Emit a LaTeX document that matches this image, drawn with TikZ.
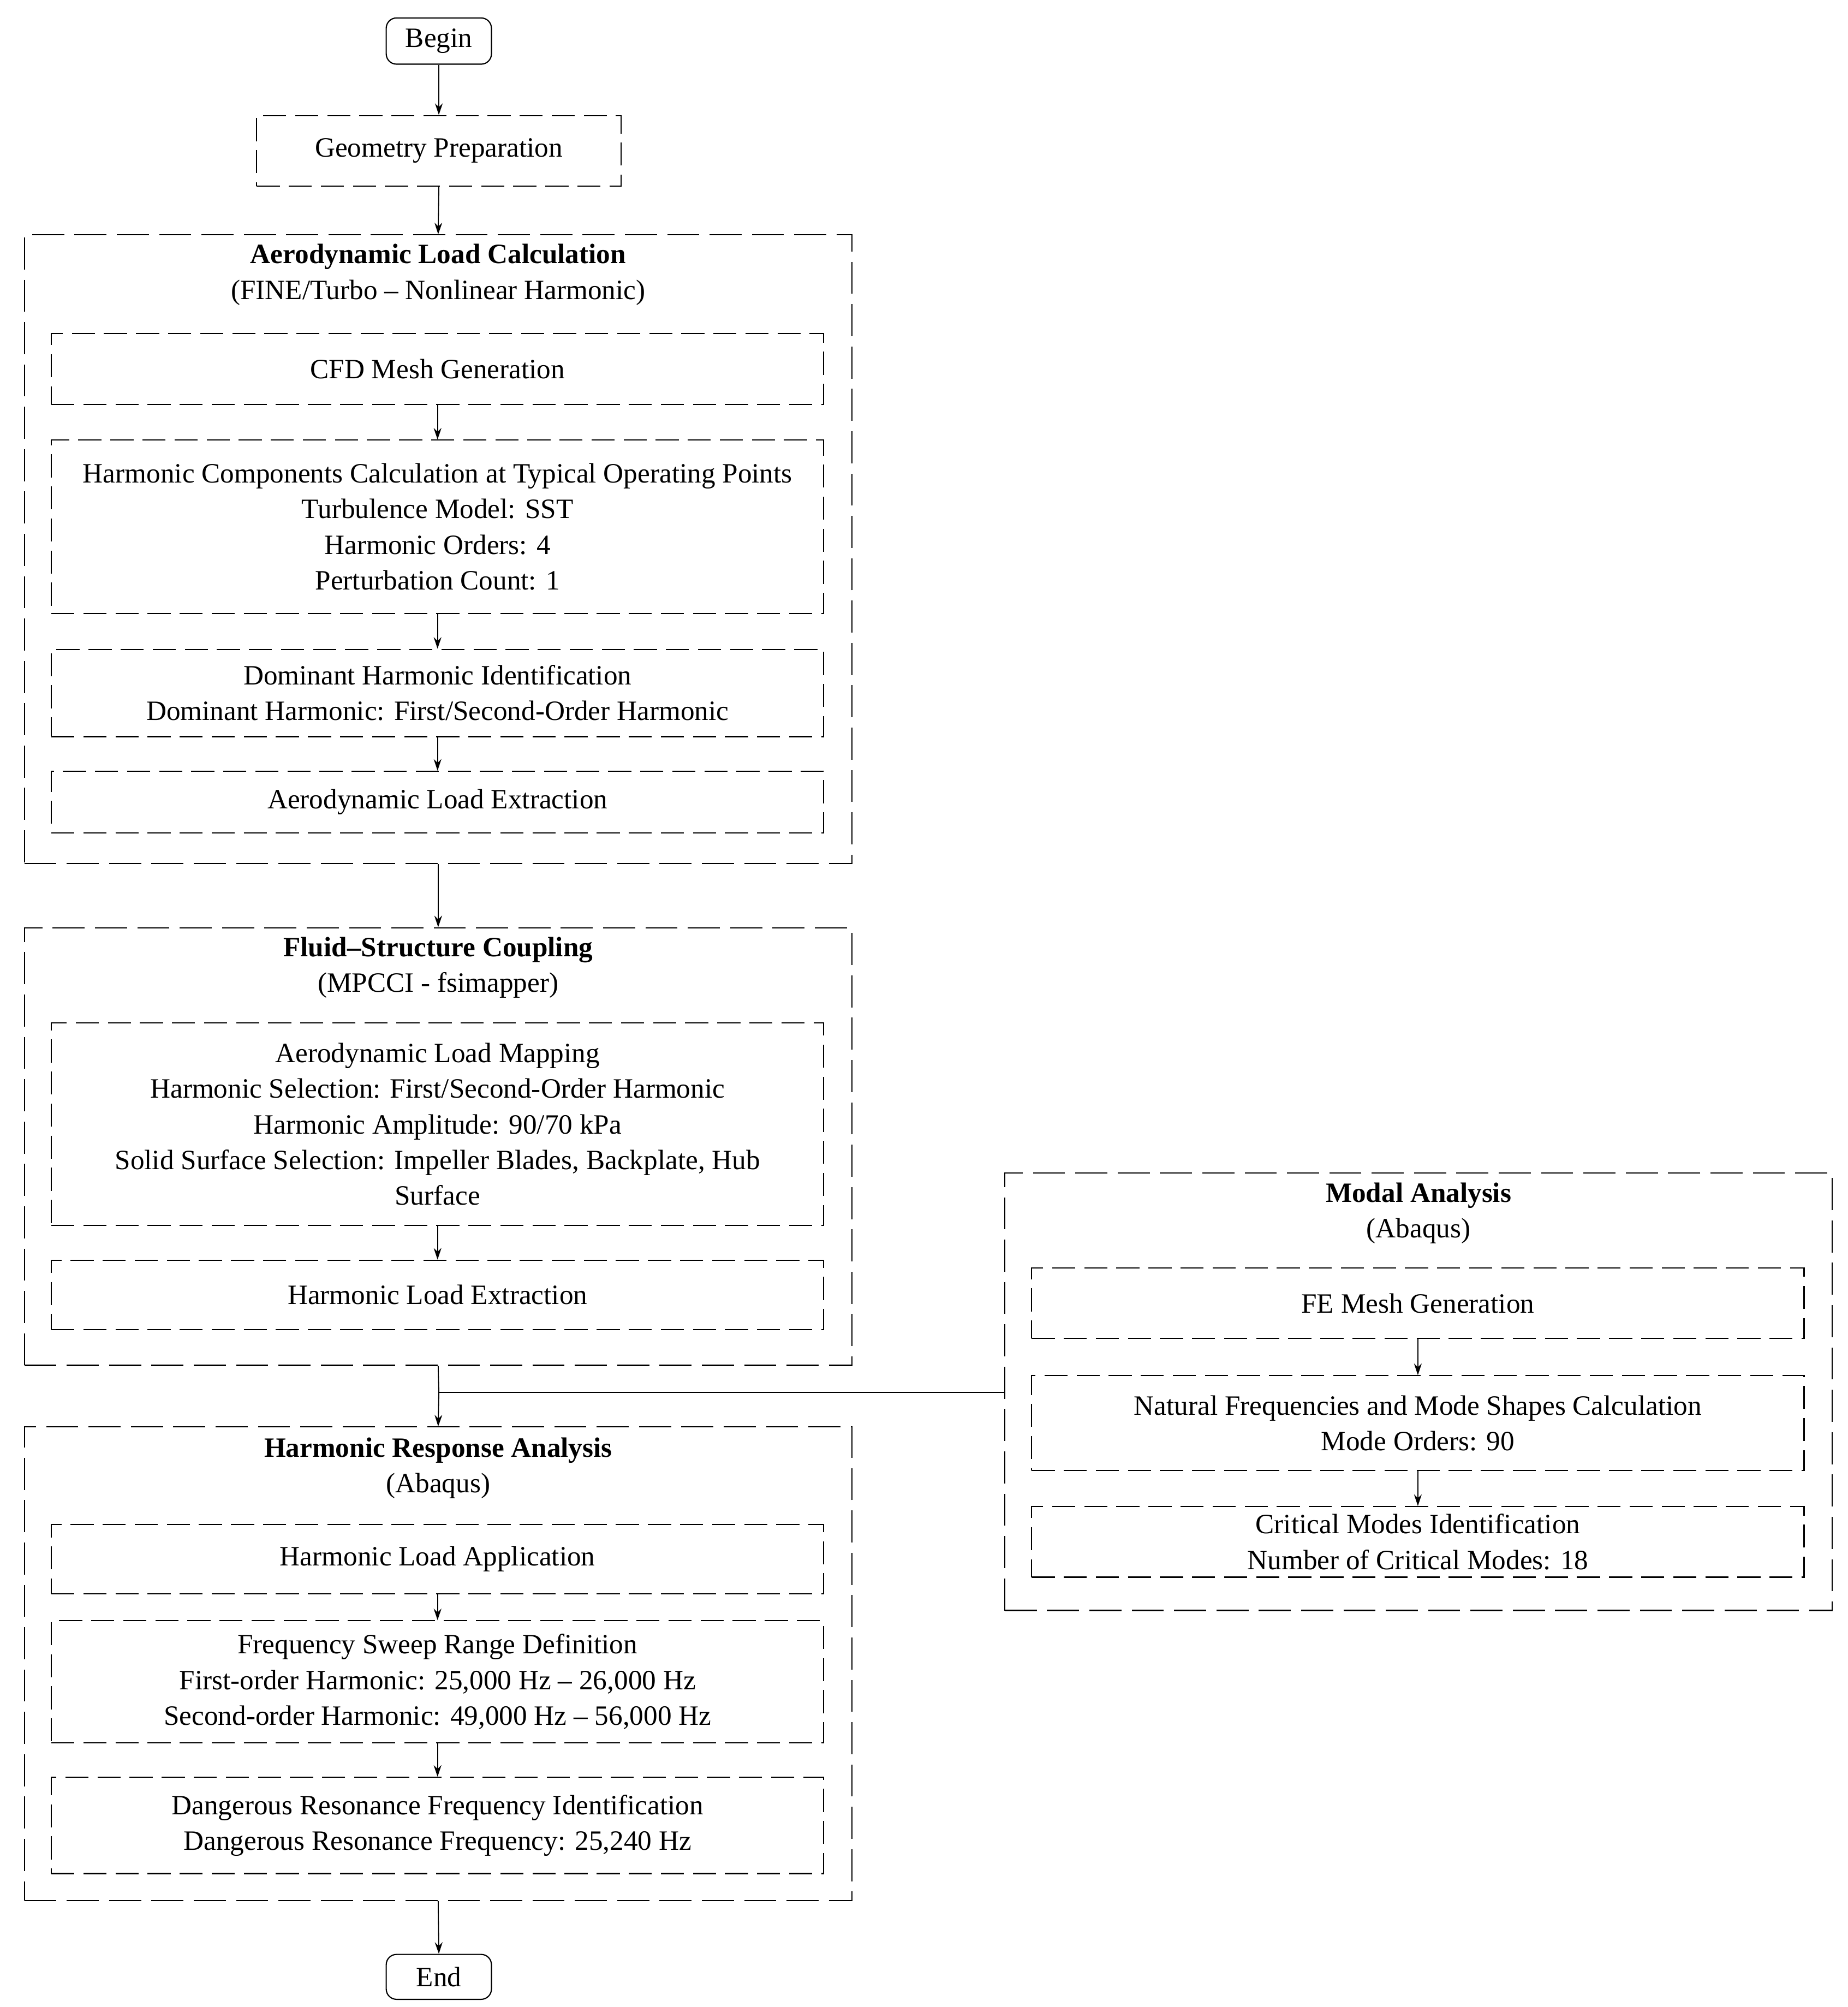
\documentclass[tikz,border=0pt]{standalone}
\usepackage{fontspec}
\setmainfont{Liberation Serif}
\usetikzlibrary{arrows.meta}
\begin{document}
\begin{tikzpicture}[x=0.05cm,y=-0.05cm,
  every node/.style={font=\fontsize{31}{39.5}\selectfont, align=center, inner sep=0pt},
  bx/.style={draw, line width=1.3pt, dash pattern=on 0.9cm off 0.35cm},
  ob/.style={draw, line width=1.3pt, dash pattern=on 1.25cm off 0.4cm},
  rb/.style={draw, line width=1.3pt, rounded corners=0.4cm},
  ar/.style={line width=1.1pt, -{Stealth[length=0.45cm,width=0.3cm]}},
  ln/.style={line width=1.1pt}]
\useasboundingbox (0,0) rectangle (1440,1564);
% outer boxes
\node[ob, minimum width=32.25cm, minimum height=24.5cm] (aero) at (341.5,428) {};
\node[ob, minimum width=32.25cm, minimum height=17.05cm] (fsc) at (341.5,893.5) {};
\node[ob, minimum width=32.25cm, minimum height=18.45cm] (hra) at (341.5,1296.5) {};
\node[ob, minimum width=32.25cm, minimum height=17.05cm] (modal) at (1105.5,1084.5) {};
% titles
\node (aerot) at (341.5,214) {\textbf{Aerodynamic Load Calculation}\\(FINE/Turbo -- Nonlinear Harmonic)};
\node (fsct) at (341.5,754) {\textbf{Fluid--Structure Coupling}\\(MPCCI - fsimapper)};
\node (hrat) at (341.5,1144) {\textbf{Harmonic Response Analysis}\\(Abaqus)};
\node (modalt) at (1105.5,945.5) {\textbf{Modal Analysis}\\(Abaqus)};
% top
\node[rb, minimum width=4.1cm, minimum height=1.8cm] (begin) at (342,32) {Begin};
\node[bx, minimum width=14.2cm, minimum height=2.75cm] (geo) at (342,117.5) {Geometry Preparation};
% aero inner
\node[bx, minimum width=30.1cm, minimum height=2.75cm] (cfd) at (341,287.5) {CFD Mesh Generation};
\node[bx, minimum width=30.1cm, minimum height=6.75cm] (harm) at (341,410.5) {Harmonic Components Calculation at Typical Operating Points\\Turbulence Model: SST\\Harmonic Orders: 4\\Perturbation Count: 1};
\node[bx, minimum width=30.1cm, minimum height=3.4cm] (dom) at (341,540) {Dominant Harmonic Identification\\Dominant Harmonic: First/Second-Order Harmonic};
\node[bx, minimum width=30.1cm, minimum height=2.4cm] (ext) at (341,625) {Aerodynamic Load Extraction};
% fsc inner
\node[bx, minimum width=30.1cm, minimum height=7.9cm] (map) at (341,876) {Aerodynamic Load Mapping\\Harmonic Selection: First/Second-Order Harmonic\\Harmonic Amplitude: 90/70 kPa\\Solid Surface Selection: Impeller Blades, Backplate, Hub\\Surface};
\node[bx, minimum width=30.1cm, minimum height=2.7cm] (hle) at (341,1009) {Harmonic Load Extraction};
% hra inner
\node[bx, minimum width=30.1cm, minimum height=2.7cm] (hla) at (341,1215) {Harmonic Load Application};
\node[bx, minimum width=30.1cm, minimum height=4.75cm] (swp) at (341,1310.5) {Frequency Sweep Range Definition\\First-order Harmonic: 25,000 Hz -- 26,000 Hz\\Second-order Harmonic: 49,000 Hz -- 56,000 Hz};
\node[bx, minimum width=30.1cm, minimum height=3.75cm] (dng) at (341,1422.5) {Dangerous Resonance Frequency Identification\\Dangerous Resonance Frequency: 25,240 Hz};
\node[rb, minimum width=4.1cm, minimum height=1.75cm] (end) at (342,1540.5) {End};
% modal inner
\node[bx, minimum width=30.1cm, minimum height=2.75cm] (fe) at (1105,1015.5) {FE Mesh Generation};
\node[bx, minimum width=30.1cm, minimum height=3.7cm] (nat) at (1105,1109) {Natural Frequencies and Mode Shapes Calculation\\Mode Orders: 90};
\node[bx, minimum width=30.1cm, minimum height=2.75cm] (crit) at (1105,1201.5) {Critical Modes Identification\\Number of Critical Modes: 18};
% connectors
\coordinate (j) at (342,1085);
\draw[ar] (begin.south) -- (geo.north);
\draw[ar] (geo.south) -- (aero.north);
\draw[ar] (cfd.south) -- (harm.north);
\draw[ar] (harm.south) -- (dom.north);
\draw[ar] (dom.south) -- (ext.north);
\draw[ar] (aero.south) -- (fsc.north);
\draw[ar] (map.south) -- (hle.north);
\draw[ln] (fsc.south) -- (j);
\draw[ar] (j) -- (hra.north);
\draw[ln] (j) -- (modal.west |- j);
\draw[ar] (hla.south) -- (swp.north);
\draw[ar] (swp.south) -- (dng.north);
\draw[ar] (hra.south) -- (end.north);
\draw[ar] (fe.south) -- (nat.north);
\draw[ar] (nat.south) -- (crit.north);
\end{tikzpicture}
\end{document}
